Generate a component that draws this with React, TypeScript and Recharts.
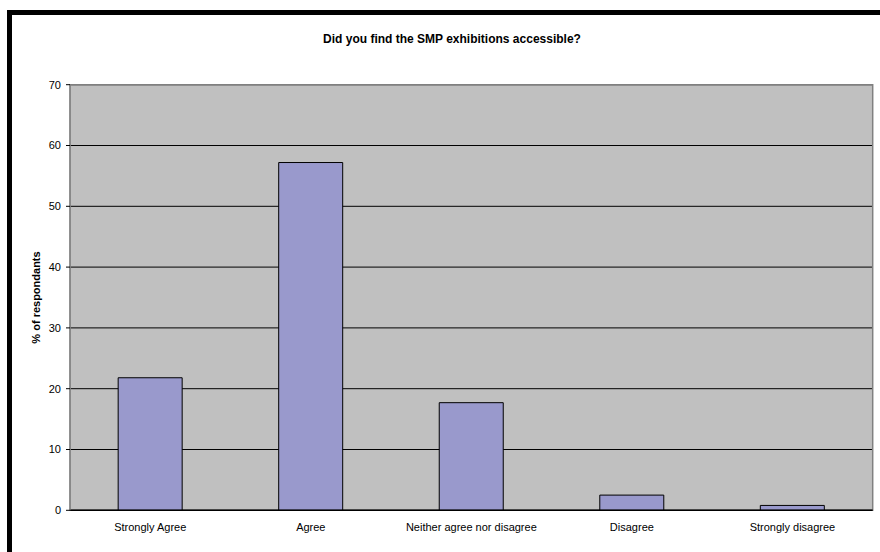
import React from 'react';
import { BarChart, Bar, XAxis, YAxis, CartesianGrid, ReferenceArea, Label } from 'recharts';

const categories = ['Strongly Agree', 'Agree', 'Neither agree nor disagree', 'Disagree', 'Strongly disagree'];
const percentValues = [21.8, 57.2, 17.7, 2.5, 0.8];
const yTicks = [0, 10, 20, 30, 40, 50, 60, 70];
const edgeTicks = [0, 1, 2, 3, 4, 5];

const data = categories.map((name, i) => ({ name, pct: percentValues[i] }));

const FONT = 'Arial, "Liberation Sans", sans-serif';

const App: React.FC = () => {
  return (
    <div style={{ position: 'absolute', left: 0, top: 0, width: 880, height: 552, overflow: 'hidden', background: '#fff', fontFamily: FONT }}>
      {/* thick black chart frame: only top and left edges are in view */}
      <div style={{ position: 'absolute', left: 7, top: 10, width: 5, height: 542, background: '#000' }} />
      <div style={{ position: 'absolute', left: 7, top: 10, width: 873, height: 5, background: '#000' }} />
      <div style={{ position: 'absolute', left: 0, top: 32, width: 904, textAlign: 'center', fontSize: 12, fontWeight: 'bold', color: '#000' }}>
        Did you find the SMP exhibitions accessible?
      </div>
      <div style={{ position: 'absolute', left: 0, top: 0 }}>
        <BarChart
          width={880}
          height={552}
          data={data}
          margin={{ top: 84.7, right: 7.3, bottom: 11.7, left: 30 }}
          barCategoryGap="30%"
        >
          <CartesianGrid yAxisId="y" vertical={false} stroke="#000" fill="#C0C0C0" fillOpacity={1} />
          <ReferenceArea yAxisId="y" y1={0} y2={70} fill="none" stroke="#808080" strokeWidth={1.5} />
          <XAxis
            xAxisId="edges"
            type="number"
            domain={[0, 5]}
            ticks={edgeTicks}
            tick={false}
            tickSize={5}
            tickLine={{ stroke: '#000' }}
            axisLine={false}
            height={0}
          />
          <XAxis
            dataKey="name"
            tickLine={false}
            axisLine={{ stroke: '#000', strokeWidth: 1.5 }}
            tickMargin={7}
            tick={{ fontSize: 11, fill: '#000', fontFamily: FONT }}
            height={30}
            interval={0}
          />
          <YAxis
            yAxisId="y"
            domain={[0, 70]}
            ticks={yTicks}
            width={40}
            tickSize={4}
            tickMargin={5}
            tickLine={{ stroke: '#000' }}
            axisLine={{ stroke: '#808080' }}
            tick={{ fontSize: 11, fill: '#000', fontFamily: FONT }}
          >
            <Label
              value="% of respondants"
              angle={-90}
              position="insideLeft"
              offset={6}
              style={{ fontSize: 11, fontWeight: 'bold', fill: '#000', fontFamily: FONT, textAnchor: 'middle' }}
            />
          </YAxis>
          <Bar yAxisId="y" dataKey="pct" fill="#9999CC" stroke="#000" strokeWidth={1} isAnimationActive={false} />
        </BarChart>
      </div>
    </div>
  );
};

export default App;
